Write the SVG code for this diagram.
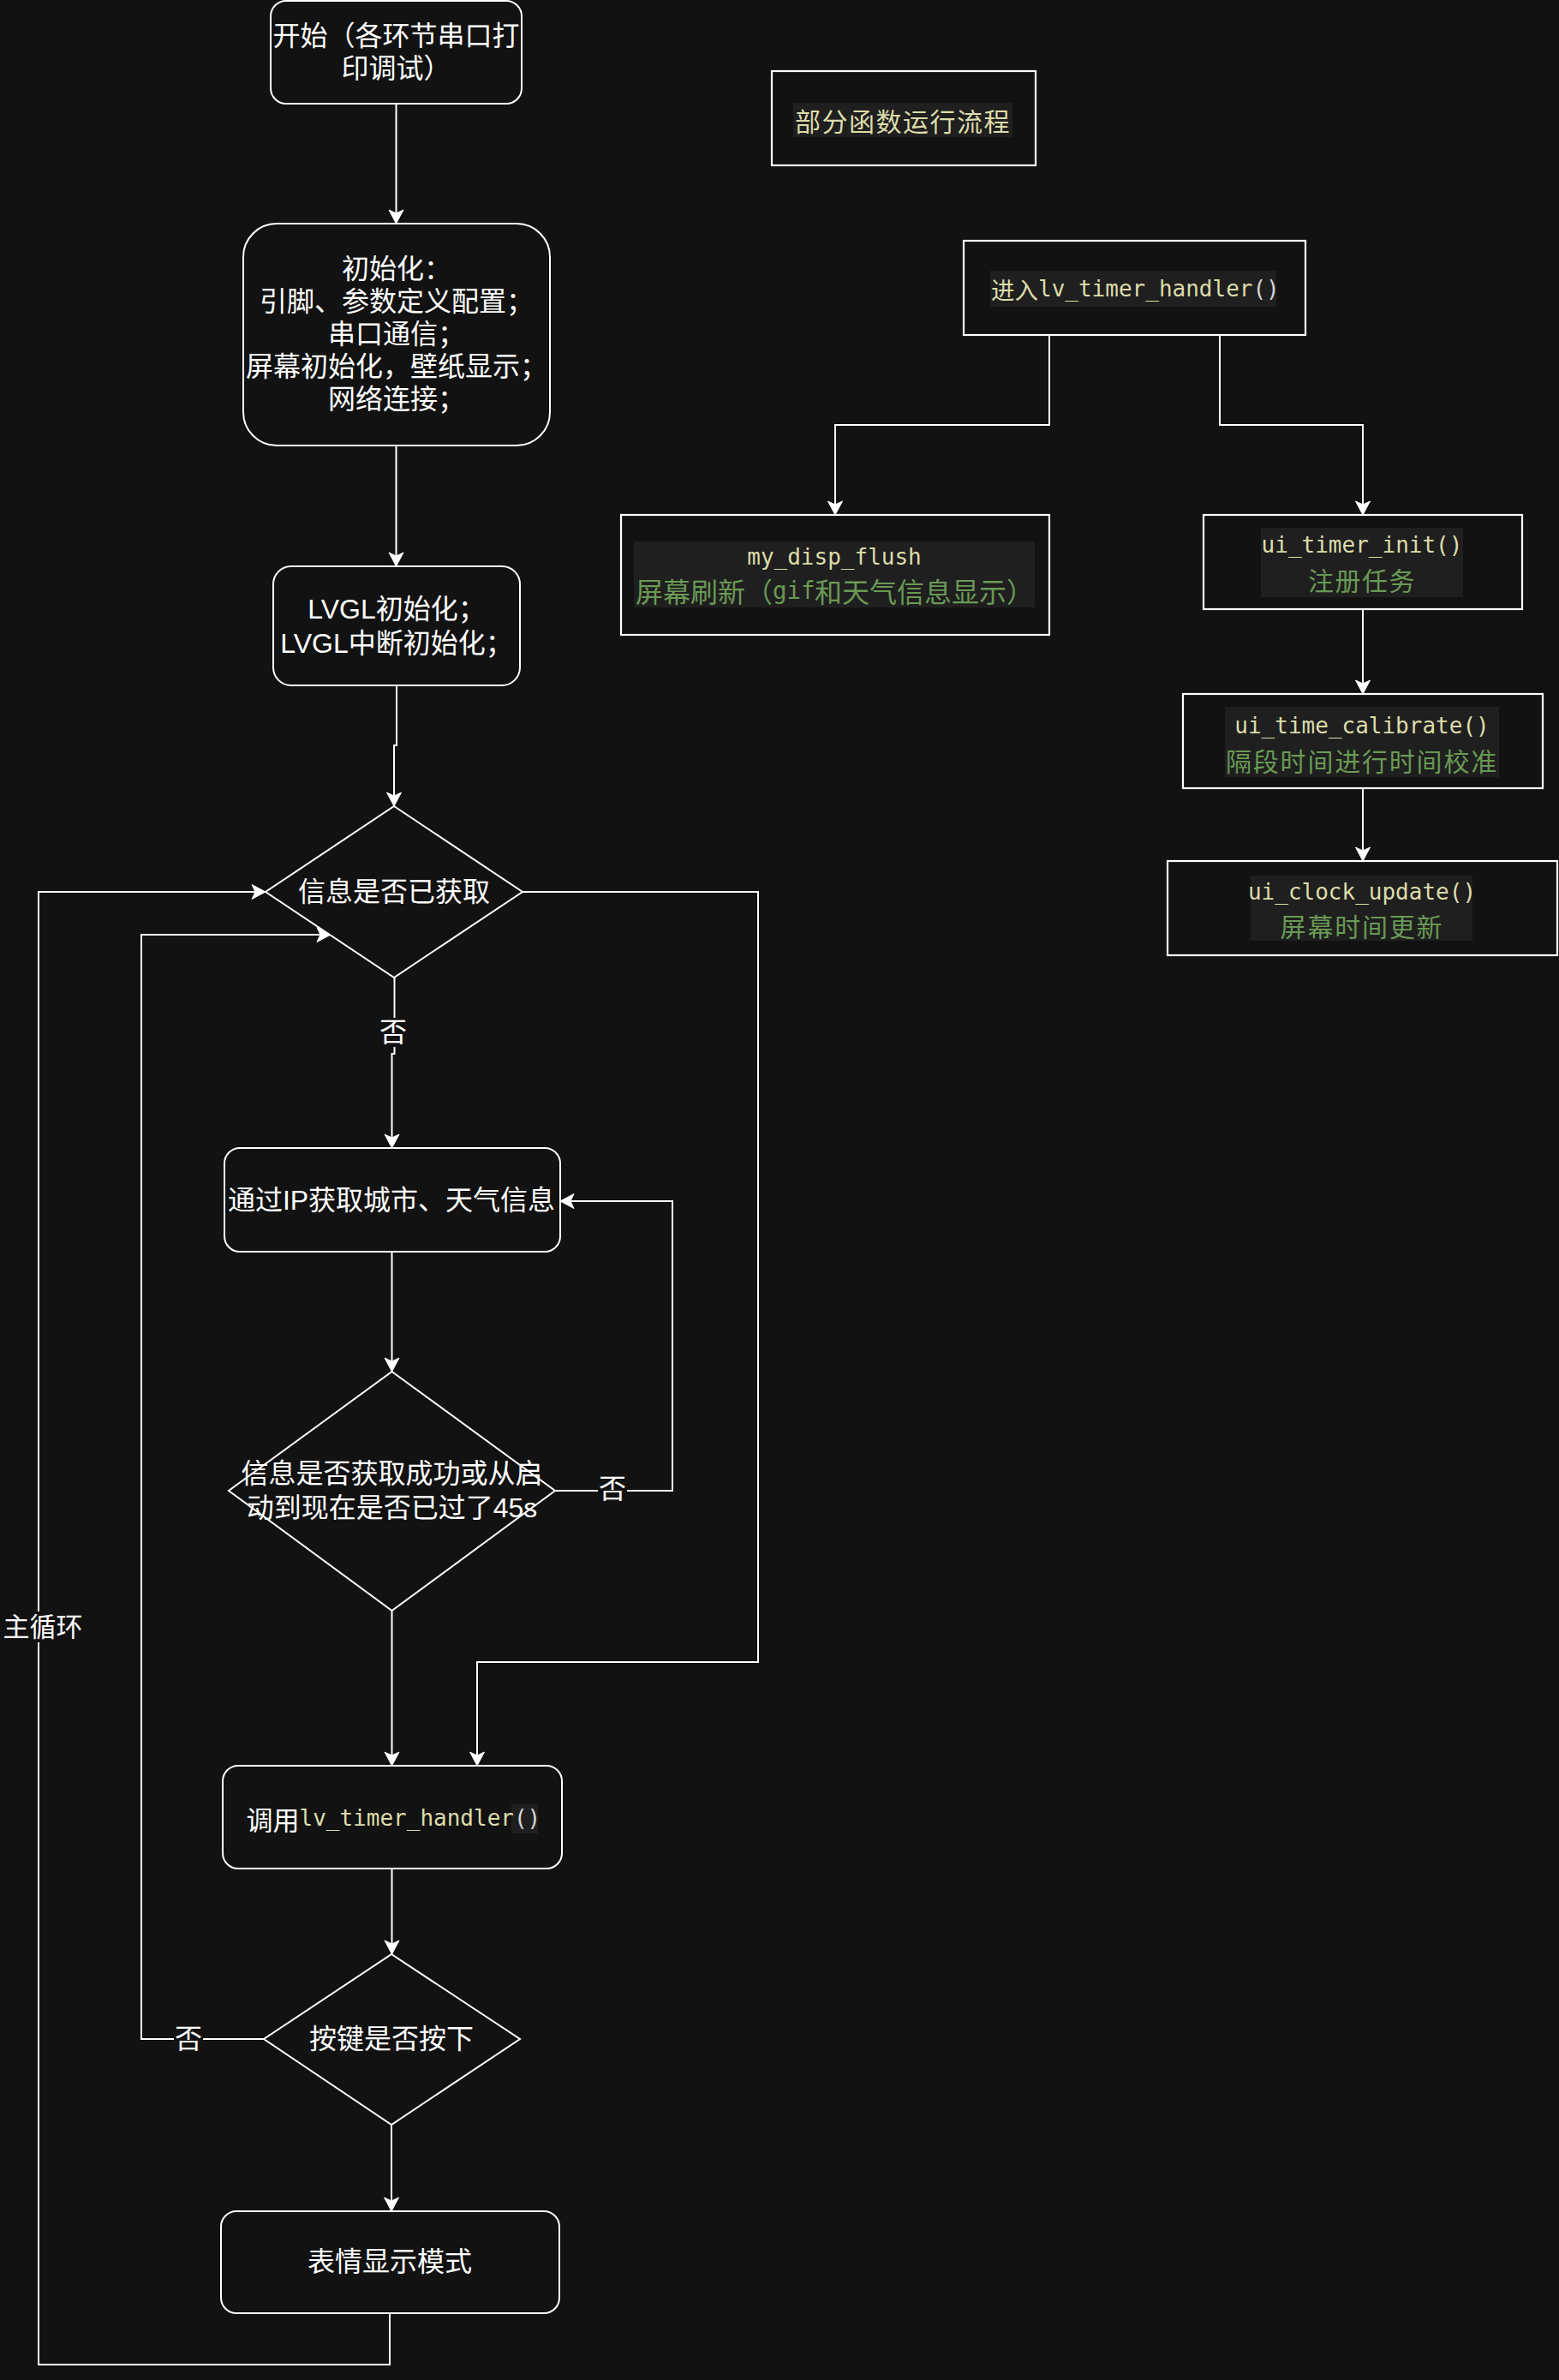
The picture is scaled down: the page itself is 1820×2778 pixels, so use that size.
<svg xmlns="http://www.w3.org/2000/svg" width="1820" height="2778" viewBox="0 0 1820 2778">
<defs>
<marker id="arr" markerUnits="userSpaceOnUse" markerWidth="20" markerHeight="20" refX="17" refY="10" orient="auto" viewBox="0 0 20 20">
<path d="M1,1.5 L17,10 L1,18.5 L5,10 Z" fill="#ffffff" stroke="#ffffff" stroke-width="1" stroke-linejoin="miter"/>
</marker>
<style>
.shape{fill:#121212;stroke:#ffffff;stroke-width:2}
.fbox{fill:#121212;stroke:#ffffff;stroke-width:2.2}
.conn{fill:none;stroke:#ffffff;stroke-width:2}
.t{font-family:"Liberation Sans","Noto Sans CJK SC",sans-serif;fill:#ffffff;text-anchor:middle;dominant-baseline:central}
.cj{font-family:"Noto Sans CJK SC",sans-serif}
.mono{font-family:"DejaVu Sans Mono","Liberation Mono",monospace;font-size:26px}
.yel{fill:#DCDCAA}
.grn{fill:#6A9955}
.gry{fill:#D4D4D4}
.hl{fill:#1F1F1F}
.lbl{fill:#121212}
</style>
</defs>
<rect x="0" y="0" width="1820" height="2778" fill="#121212"/>

<g id="connectors">
<path class="conn" d="M462.5,121 V261" marker-end="url(#arr)"/>
<path class="conn" d="M462.5,520 V661" marker-end="url(#arr)"/>
<path class="conn" d="M463,800 V870 H460 V941" marker-end="url(#arr)"/>
<path class="conn" d="M460.5,1141 V1230 H457.5 V1340" marker-end="url(#arr)"/>
<path class="conn" d="M457.5,1461 V1601" marker-end="url(#arr)"/>
<path class="conn" d="M648,1740 H785 V1402 H654" marker-end="url(#arr)"/>
<path class="conn" d="M457.5,1880 V2061" marker-end="url(#arr)"/>
<path class="conn" d="M610,1041 H885 V1940 H557 V2061" marker-end="url(#arr)"/>
<path class="conn" d="M457.5,2181 V2281" marker-end="url(#arr)"/>
<path class="conn" d="M308,2380 H165 V1091 H386" marker-end="url(#arr)"/>
<path class="conn" d="M457,2480 V2581" marker-end="url(#arr)"/>
<path class="conn" d="M455,2700 V2760 H45 V1041 H310" marker-end="url(#arr)"/>
<path class="conn" d="M1225,391 V496 H975 V601" marker-end="url(#arr)"/>
<path class="conn" d="M1424,391 V496 H1591 V601" marker-end="url(#arr)"/>
<path class="conn" d="M1591,711 V810" marker-end="url(#arr)"/>
<path class="conn" d="M1591,920 V1005" marker-end="url(#arr)"/>
<g id="edge-labels">
<rect class="lbl" x="442" y="1188" width="34" height="34"/>
<text class="t" x="459" y="1205" font-size="32">否</text>
<rect class="lbl" x="698" y="1721" width="34" height="34"/>
<text class="t" x="715" y="1738" font-size="32">否</text>
<rect class="lbl" x="203" y="2363" width="34" height="34"/>
<text class="t" x="220" y="2380" font-size="32">否</text>
<rect class="lbl" x="3" y="1881" width="94" height="36"/>
<text class="t" x="50" y="1899" font-size="31">主循环</text>
</g>
</g>

<g id="start">
<rect class="shape" x="316" y="1" width="293" height="120" rx="18"/>
<text class="t" x="462.5" y="42" font-size="32">开始（各环节串口打</text>
<text class="t" x="462.5" y="80" font-size="32">印调试）</text>
</g>

<g id="init">
<rect class="shape" x="284" y="261" width="358" height="259" rx="39"/>
<text class="t" x="463" y="314" font-size="32">初始化：</text>
<text class="t" x="463" y="352" font-size="32">引脚、参数定义配置；</text>
<text class="t" x="463" y="390" font-size="32">串口通信；</text>
<text class="t" x="463" y="428" font-size="32">屏幕初始化，壁纸显示；</text>
<text class="t" x="463" y="466" font-size="32">网络连接；</text>
</g>

<g id="lvgl">
<rect class="shape" x="319" y="661" width="288" height="139" rx="21"/>
<text class="t" x="463" y="711" font-size="32">LVGL初始化；</text>
<text class="t" x="463" y="751" font-size="32">LVGL中断初始化；</text>
</g>

<g id="check-info">
<polygon class="shape" points="460,941 610,1041 460,1141 310,1041"/>
<text class="t" x="460" y="1041" font-size="32">信息是否已获取</text>
</g>

<g id="get-ip">
<rect class="shape" x="262" y="1340" width="392" height="121" rx="18"/>
<text class="t" x="457" y="1401" font-size="32">通过IP获取城市、天气信息</text>
</g>

<g id="check-success">
<polygon class="shape" points="457.5,1601 648,1740 457.5,1880 267,1740"/>
<text class="t" x="457.5" y="1720" font-size="32">信息是否获取成功或从启</text>
<text class="t" x="457.5" y="1760" font-size="32">动到现在是否已过了45s</text>
</g>

<g id="call-handler">
<rect class="shape" x="260" y="2061" width="396" height="120" rx="18"/>
<rect class="hl" x="597" y="2106" width="31" height="34"/>
<text x="287.5" y="2122" dominant-baseline="central" font-size="31" fill="#ffffff" font-family="'Noto Sans CJK SC',sans-serif">调用<tspan class="mono yel">lv_timer_handler</tspan><tspan class="mono gry">()</tspan></text>
</g>

<g id="check-key">
<polygon class="shape" points="457,2281 607,2380 457,2480 308,2380"/>
<text class="t" x="457" y="2380" font-size="32">按键是否按下</text>
</g>

<g id="emotion">
<rect class="shape" x="258" y="2581" width="395" height="119" rx="18"/>
<text class="t" x="455" y="2640" font-size="32">表情显示模式</text>
</g>

<g id="title">
<rect class="fbox" x="901" y="83" width="308" height="110"/>
<rect class="hl" x="926" y="120" width="256" height="40"/>
<text x="1054" y="140" text-anchor="middle" dominant-baseline="central" font-size="30" letter-spacing="1.5" class="cj yel">部分函数运行流程</text>
</g>

<g id="enter-handler">
<rect class="fbox" x="1125" y="281" width="399" height="110"/>
<rect class="hl" x="1156" y="316" width="334" height="42"/>
<text x="1157" y="337" dominant-baseline="central" font-size="27.5" class="cj yel">进入<tspan class="mono yel">lv_timer_handler</tspan><tspan class="mono gry">()</tspan></text>
</g>

<g id="my-disp-flush">
<rect class="fbox" x="725" y="601" width="500" height="140"/>
<rect class="hl" x="740" y="632" width="468" height="77"/>
<text x="974" y="650" text-anchor="middle" dominant-baseline="central" class="mono yel">my_disp_flush</text>
<text y="689" dominant-baseline="central" class="grn"><tspan x="742" class="cj" font-size="32">屏幕刷新（</tspan><tspan x="902" font-family="'DejaVu Sans Mono',monospace" font-size="27.5">gif</tspan><tspan x="951" class="cj" font-size="32">和天气信息显示）</tspan></text>
</g>

<g id="ui-timer-init">
<rect class="fbox" x="1405" y="601" width="372" height="110"/>
<rect class="hl" x="1472" y="616" width="236" height="81"/>
<text x="1590" y="636" text-anchor="middle" dominant-baseline="central" class="mono yel">ui_timer_init()</text>
<text x="1590" y="676" text-anchor="middle" dominant-baseline="central" font-size="30" letter-spacing="1.5" class="cj grn">注册任务</text>
</g>

<g id="ui-time-calibrate">
<rect class="fbox" x="1381" y="810" width="420" height="110"/>
<rect class="hl" x="1430" y="825" width="320" height="82"/>
<text x="1590" y="847" text-anchor="middle" dominant-baseline="central" class="mono yel">ui_time_calibrate()</text>
<text x="1590" y="887" text-anchor="middle" dominant-baseline="central" font-size="30" letter-spacing="1.8" class="cj grn">隔段时间进行时间校准</text>
</g>

<g id="ui-clock-update">
<rect class="fbox" x="1363" y="1005" width="455" height="110"/>
<rect class="hl" x="1460" y="1022" width="259" height="76"/>
<text x="1590" y="1041" text-anchor="middle" dominant-baseline="central" class="mono yel">ui_clock_update()</text>
<text x="1590" y="1080" text-anchor="middle" dominant-baseline="central" font-size="30" letter-spacing="1.8" class="cj grn">屏幕时间更新</text>
</g>
</svg>
